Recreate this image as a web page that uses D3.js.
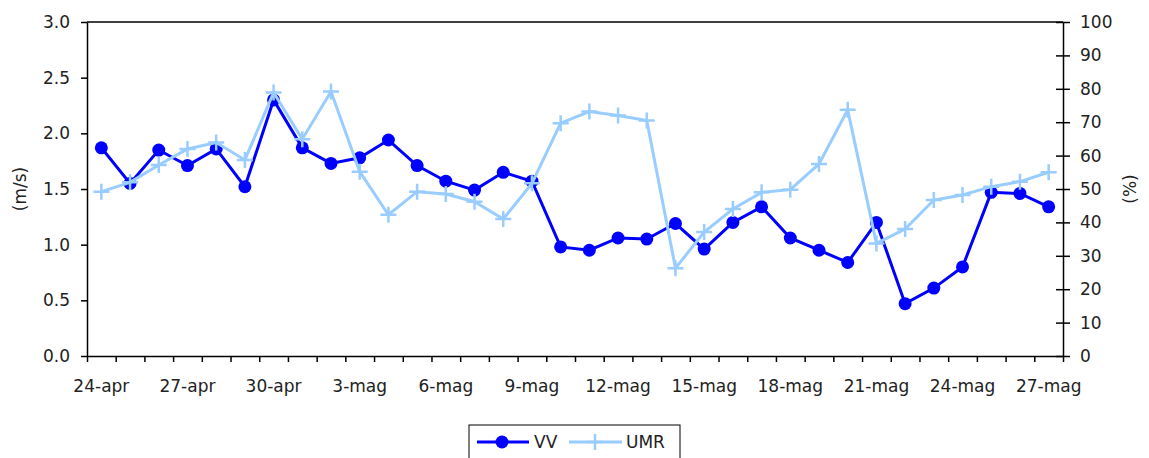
<!DOCTYPE html>
<html>
<head>
<meta charset="utf-8">
<script src="https://cdn.jsdelivr.net/npm/d3@7"></script>
<style>
body { margin: 0; background: #fff; }
svg { display: block; }
svg text { font-family: "DejaVu Sans", sans-serif; font-size: 17px; fill: #222; }
.axis path, .axis line { stroke: #000; stroke-width: 1.5; }
</style>
</head>
<body>
<svg width="1149" height="458"></svg>
<script>
var days = ["24-apr","25-apr","26-apr","27-apr","28-apr","29-apr","30-apr",
  "1-mag","2-mag","3-mag","4-mag","5-mag","6-mag","7-mag","8-mag","9-mag",
  "10-mag","11-mag","12-mag","13-mag","14-mag","15-mag","16-mag","17-mag",
  "18-mag","19-mag","20-mag","21-mag","22-mag","23-mag","24-mag","25-mag",
  "26-mag","27-mag"];

// wind speed (m/s), left axis
var vv = [1.87,1.55,1.85,1.71,1.86,1.52,2.30,1.87,1.73,1.78,1.94,1.71,
  1.57,1.49,1.65,1.57,0.98,0.95,1.06,1.05,1.19,0.96,1.20,1.34,1.06,0.95,
  0.84,1.20,0.47,0.61,0.80,1.47,1.46,1.34];

// relative humidity (%), right axis
var umr = [49.2,52.0,57.2,62.0,63.9,58.7,78.9,64.9,79.2,55.2,42.3,49.2,
  48.5,46.2,41.0,51.7,69.7,73.2,72.0,70.5,26.3,37.1,44.0,49.0,49.8,57.5,
  73.7,33.7,38.0,46.7,48.2,50.7,52.2,55.0];

var leftTicks = [0,0.5,1,1.5,2,2.5,3];
var rightTicks = [0,10,20,30,40,50,60,70,80,90,100];

var svg = d3.select("svg"),
margin = {
 top: 22,
 right: 86,
 bottom: 102,
 left: 87
},
width = +svg.attr("width") - margin.left - margin.right,
height = +svg.attr("height") - margin.top - margin.bottom;

var x = d3.scaleBand().domain(days).range([0, width]).padding(0),
    xi = d3.scaleLinear().domain([0, days.length]).range([0, width]),
    y = d3.scaleLinear().domain([0, 3]).range([height, 0]),
    y2 = d3.scaleLinear().domain([0, 100]).range([height, 0]);

var g = svg.append("g").attr("transform", "translate(" + margin.left + "," + margin.top + ")");

// top frame line
g.append("line")
  .attr("x1", 0).attr("x2", width)
  .attr("y1", 0).attr("y2", 0)
  .attr("stroke", "#000").attr("stroke-width", 1.5);

// x tick marks between days
g.append("g")
  .attr("class", "axis")
  .attr("transform", "translate(0," + height + ")")
  .call(d3.axisBottom(xi).tickValues(d3.range(0, days.length + 1)).tickSize(6).tickSizeOuter(0).tickFormat(""));

// x labels every third day
g.append("g")
  .attr("class", "axis")
  .attr("transform", "translate(0," + height + ")")
  .call(d3.axisBottom(x)
    .tickValues(days.filter(function(d, i) { return i % 3 === 0; }))
    .tickSize(0).tickPadding(24))
  .call(function(s) { s.select(".domain").remove(); });

g.append("g")
  .attr("class", "axis")
  .call(d3.axisLeft(y).tickValues(leftTicks).tickSize(6).tickSizeOuter(0).tickPadding(11)
    .tickFormat(d3.format(".1f")));

var ra = g.append("g")
  .attr("class", "axis")
  .attr("transform", "translate(" + width + ",0)")
  .call(d3.axisRight(y2).tickValues(rightTicks).tickSize(7).tickSizeOuter(0).tickPadding(10));
ra.selectAll(".tick line").attr("x1", -7);

svg.append("text")
  .attr("transform", "translate(26," + (margin.top + height / 2) + ") rotate(-90)")
  .attr("text-anchor", "middle")
  .text("(m/s)");

svg.append("text")
  .attr("transform", "translate(1136," + (margin.top + height / 2) + ") rotate(-90)")
  .attr("text-anchor", "middle")
  .text("(%)");

var cx = function(d, i) { return x(days[i]) + x.bandwidth() / 2; };

// VV series
g.append("path")
  .datum(vv)
  .attr("fill", "none")
  .attr("stroke", "#0000ff")
  .attr("stroke-width", 3)
  .attr("d", d3.line().x(cx).y(function(d) { return y(d); }));

g.selectAll(".dot")
  .data(vv)
  .enter().append("circle")
  .attr("class", "dot")
  .attr("cx", cx)
  .attr("cy", function(d) { return y(d); })
  .attr("r", 6.5)
  .attr("fill", "#0000ff");

// UMR series
g.append("path")
  .datum(umr)
  .attr("fill", "none")
  .attr("stroke", "#99ccff")
  .attr("stroke-width", 3)
  .attr("d", d3.line().x(cx).y(function(d) { return y2(d); }));

g.selectAll(".cross")
  .data(umr)
  .enter().append("path")
  .attr("class", "cross")
  .attr("transform", function(d, i) { return "translate(" + cx(d, i) + "," + y2(d) + ")"; })
  .attr("d", "M-8,0H8M0,-8V8")
  .attr("stroke", "#99ccff")
  .attr("stroke-width", 2.5);

// legend
var lg = svg.append("g").attr("transform", "translate(469,425)");
lg.append("rect")
  .attr("width", 211).attr("height", 45)
  .attr("fill", "#fff").attr("stroke", "#000").attr("stroke-width", 1);
lg.append("line").attr("x1", 8).attr("x2", 60).attr("y1", 17).attr("y2", 17)
  .attr("stroke", "#0000ff").attr("stroke-width", 3);
lg.append("circle").attr("cx", 33).attr("cy", 17).attr("r", 6.5).attr("fill", "#0000ff");
lg.append("text").attr("x", 65).attr("y", 23).text("VV");
lg.append("line").attr("x1", 100).attr("x2", 153).attr("y1", 17).attr("y2", 17)
  .attr("stroke", "#99ccff").attr("stroke-width", 3);
lg.append("path").attr("transform", "translate(126,17)").attr("d", "M-8,0H8M0,-8V8")
  .attr("stroke", "#99ccff").attr("stroke-width", 2.5);
lg.append("text").attr("x", 157).attr("y", 23).text("UMR");
</script>
</body>
</html>
